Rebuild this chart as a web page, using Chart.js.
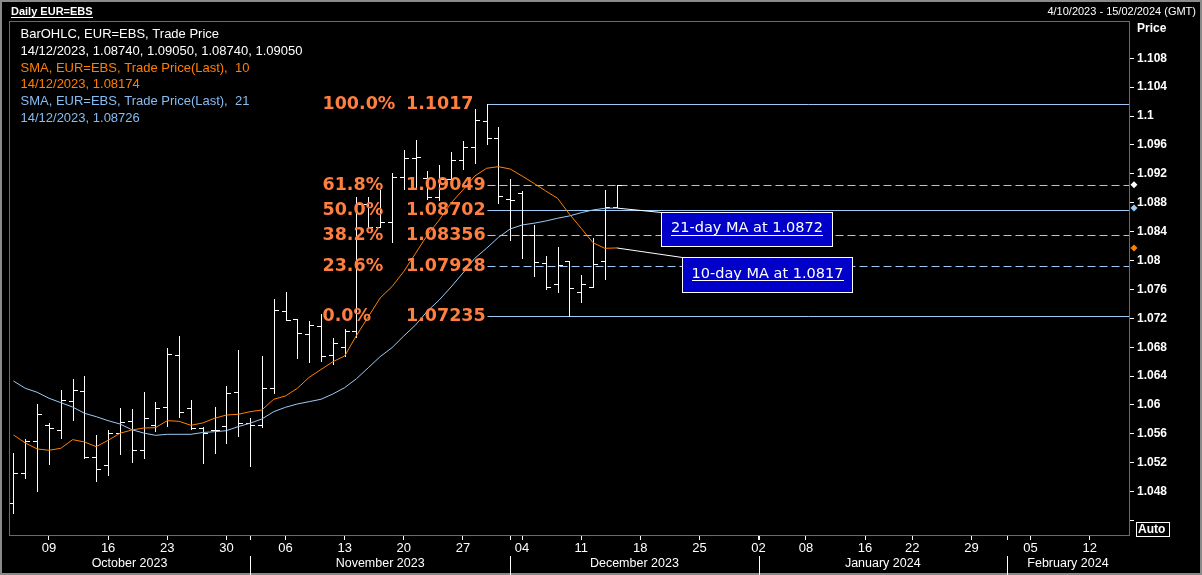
<!DOCTYPE html>
<html>
<head>
<meta charset="utf-8">
<script src="https://cdn.jsdelivr.net/npm/chart.js@4.4.1/dist/chart.umd.min.js"></script>
<style>
  html, body { margin: 0; padding: 0; background: #000; }
  canvas { display: block; }
</style>
</head>
<body>
<canvas id="chart" width="1202" height="575"></canvas>
<script>
// Daily EUR=EBS, one entry per trading day from 04/10/2023 to 14/12/2023
// x value = trading day number (0 = 4 Oct 2023)
const opens = [1.04643, 1.05054, 1.05500, 1.05723, 1.05650, 1.06055, 1.06190, 1.05276, 1.05169, 1.05608,
  1.05774, 1.05373, 1.05727, 1.05968, 1.06688, 1.05958, 1.05682, 1.05654, 1.05709, 1.06180,
  1.05755, 1.05723, 1.06231, 1.07297, 1.07195, 1.06979, 1.07094, 1.06692, 1.06799, 1.07029,
  1.08783, 1.08469, 1.08538, 1.09152, 1.09416, 1.09139, 1.08880, 1.09125, 1.09392, 1.09568,
  1.09930, 1.09701, 1.08852, 1.08930, 1.08360, 1.07970, 1.07675, 1.07990, 1.07560, 1.07638,
  1.07990, 1.08740];
const highs = [1.05335, 1.05525, 1.06014, 1.05747, 1.06208, 1.06360, 1.06402, 1.05585, 1.05654, 1.05958,
  1.05940, 1.06180, 1.06037, 1.06789, 1.06955, 1.06069, 1.05691, 1.05968, 1.06267, 1.06762,
  1.05816, 1.06678, 1.07463, 1.07565, 1.07195, 1.07167, 1.07260, 1.06923, 1.07056, 1.08876,
  1.08876, 1.08977, 1.09208, 1.09526, 1.09669, 1.09240, 1.09323, 1.09503, 1.09655, 1.10098,
  1.10170, 1.09845, 1.09125, 1.08963, 1.08492, 1.08067, 1.08192, 1.07998, 1.07800, 1.08316,
  1.08977, 1.09050];
const lows = [1.04509, 1.04994, 1.04814, 1.05187, 1.05547, 1.05792, 1.05262, 1.04952, 1.05035, 1.05326,
  1.05215, 1.05270, 1.05644, 1.05713, 1.05830, 1.05668, 1.05201, 1.05340, 1.05470, 1.05575,
  1.05160, 1.05691, 1.06162, 1.07177, 1.06647, 1.06599, 1.06613, 1.06564, 1.06678, 1.06946,
  1.08469, 1.08460, 1.08253, 1.08986, 1.09014, 1.08852, 1.08838, 1.09125, 1.09263, 1.09355,
  1.09613, 1.08793, 1.08284, 1.08039, 1.07790, 1.07602, 1.07560, 1.07235, 1.07422, 1.07638,
  1.07740, 1.08740];
const closes = [1.05054, 1.05497, 1.05871, 1.05677, 1.06069, 1.06208, 1.05276, 1.05110, 1.05608, 1.05760,
  1.05373, 1.05820, 1.05958, 1.06706, 1.05899, 1.05677, 1.05608, 1.05654, 1.06170, 1.05755,
  1.05723, 1.06231, 1.07315, 1.07177, 1.06993, 1.07103, 1.06678, 1.06863, 1.07029, 1.08783,
  1.08469, 1.08538, 1.09152, 1.09416, 1.09430, 1.08880, 1.09125, 1.09392, 1.09568, 1.09946,
  1.09701, 1.08894, 1.08840, 1.08360, 1.07976, 1.07638, 1.07940, 1.07616, 1.07675, 1.07952,
  1.08745, 1.09050];
const sma10 = [1.05585, 1.05474, 1.05391, 1.05373, 1.05400, 1.05520, 1.05488, 1.05423, 1.05511, 1.05608,
  1.05654, 1.05681, 1.05686, 1.05783, 1.05774, 1.05719, 1.05751, 1.05816, 1.05861, 1.05871,
  1.05907, 1.05931, 1.06079, 1.06125, 1.06231, 1.06383, 1.06491, 1.06599, 1.06678, 1.06962,
  1.07222, 1.07481, 1.07638, 1.07848, 1.08100, 1.08354, 1.08561, 1.08797, 1.08977, 1.09170,
  1.09277, 1.09299, 1.09267, 1.09170, 1.09069, 1.08963, 1.08862, 1.08644, 1.08446, 1.08247,
  1.08169, 1.08174];
const sma21 = [1.06332, 1.06231, 1.06176, 1.06093, 1.06032, 1.05972, 1.05885, 1.05838, 1.05783, 1.05737,
  1.05658, 1.05612, 1.05580, 1.05594, 1.05594, 1.05594, 1.05619, 1.05630, 1.05644, 1.05700,
  1.05747, 1.05806, 1.05907, 1.05968, 1.06014, 1.06046, 1.06079, 1.06152, 1.06240, 1.06364,
  1.06516, 1.06669, 1.06793, 1.06955, 1.07108, 1.07301, 1.07454, 1.07634, 1.07827, 1.08030,
  1.08170, 1.08320, 1.08437, 1.08492, 1.08516, 1.08547, 1.08585, 1.08617, 1.08662, 1.08700,
  1.08723, 1.08726];

// axis: trading days up to 15/02/2024 (index 94)
const xMin = -0.38;
const xMax = 94.32;
const yMin = 1.042;
const yMax = 1.11316;
const weekTicks = [3, 8, 13, 18, 23, 28, 33, 38, 43, 48, 53, 58, 63, 67, 72, 76, 81, 86, 91];
const weekLabels = ['09', '16', '23', '30', '06', '13', '20', '27', '04', '11', '18', '25', '02', '08', '16', '22', '29', '05', '12'];
const monthStarts = [20, 42, 63, 84];
const monthLabels = ['October 2023', 'November 2023', 'December 2023', 'January 2024', 'February 2024'];
const priceTicks = [1.044, 1.048, 1.052, 1.056, 1.06, 1.064, 1.068, 1.072, 1.076, 1.08, 1.084, 1.088, 1.092, 1.096, 1.1, 1.104, 1.108];
const priceLabels = ['', '1.048', '1.052', '1.056', '1.06', '1.064', '1.068', '1.072', '1.076', '1.08', '1.084', '1.088', '1.092', '1.096', '1.1', '1.104', '1.108'];

// Fibonacci retracement between the 29/11 high and 08/12 low
const fibStart = 40;
const fibNames = ['100.0%', '61.8%', '50.0%', '38.2%', '23.6%', '0.0%'];
const fibLevels = [1.1017, 1.09049, 1.08702, 1.08356, 1.07928, 1.07235];
const fibValueText = ['1.1017', '1.09049', '1.08702', '1.08356', '1.07928', '1.07235'];
const fibDashed = [false, true, false, true, true, false];

const legendLines = [
  ['BarOHLC, EUR=EBS, Trade Price', '#ffffff'],
  ['14/12/2023, 1.08740, 1.09050, 1.08740, 1.09050', '#ffffff'],
  ['SMA, EUR=EBS, Trade Price(Last),  10', '#ff7f00'],
  ['14/12/2023, 1.08174', '#ff7f00'],
  ['SMA, EUR=EBS, Trade Price(Last),  21', '#86bdf2'],
  ['14/12/2023, 1.08726', '#86bdf2']
];

const ORANGE = '#ff8000';
const BLUE = '#9ccaf5';
const FIBTXT = '#ff7f40';
const TEAL = '#1b8b8b';

// callout boxes (data units): left/right in trading days, top/bottom in price
const callouts = [
  { text: '21-day MA at 1.0872', series: sma21, x0: 54.75, x1: 69.18, top: 1.08676, bottom: 1.08197 },
  { text: '10-day MA at 1.0817', series: sma10, x0: 56.55, x1: 70.92, top: 1.08045, bottom: 1.07560 }
];

function pts(arr) {
  return arr.map((v, i) => ({ x: i, y: v }));
}

const fxPlugin = {
  id: 'fx',
  beforeDraw(chart) {
    const ctx = chart.ctx;
    ctx.save();
    ctx.fillStyle = '#000';
    ctx.fillRect(0, 0, chart.width, chart.height);
    ctx.restore();
  },
  beforeDatasetsDraw(chart) {
    const ctx = chart.ctx;
    const xs = chart.scales.x;
    const ys = chart.scales.y;
    const area = chart.chartArea;
    ctx.save();
    // fib lines
    ctx.strokeStyle = BLUE;
    ctx.lineWidth = 1;
    const x0 = Math.round(xs.getPixelForValue(fibStart)) + 0.5;
    fibLevels.forEach((lv, i) => {
      const y = Math.round(ys.getPixelForValue(lv)) + 0.5;
      ctx.setLineDash(fibDashed[i] ? [8, 4] : []);
      ctx.beginPath();
      ctx.moveTo(x0, y);
      ctx.lineTo(area.right, y);
      ctx.stroke();
    });
    ctx.setLineDash([]);
    // OHLC bars
    ctx.strokeStyle = '#ffffff';
    for (let i = 0; i < closes.length; i++) {
      const x = Math.round(xs.getPixelForValue(i)) + 0.5;
      const yh = Math.round(ys.getPixelForValue(highs[i]));
      const yl = Math.round(ys.getPixelForValue(lows[i]));
      const yo = Math.round(ys.getPixelForValue(opens[i])) + 0.5;
      const yc = Math.round(ys.getPixelForValue(closes[i])) + 0.5;
      ctx.beginPath();
      ctx.moveTo(x, yh);
      ctx.lineTo(x, yl + 1);
      ctx.moveTo(x - 4.5, yo);
      ctx.lineTo(x, yo);
      ctx.moveTo(x, yc);
      ctx.lineTo(x + 4.5, yc);
      ctx.stroke();
    }
    ctx.restore();
  },
  afterDatasetsDraw(chart) {
    const ctx = chart.ctx;
    const xs = chart.scales.x;
    const ys = chart.scales.y;
    const area = chart.chartArea;
    ctx.save();
    // fib labels
    ctx.fillStyle = FIBTXT;
    ctx.font = 'bold 17.5px "DejaVu Sans", Verdana, sans-serif';
    ctx.textBaseline = 'middle';
    ctx.textAlign = 'left';
    fibLevels.forEach((lv, i) => {
      const y = ys.getPixelForValue(lv) + 1;
      ctx.fillText(fibNames[i], area.left + 313.5, y);
      ctx.fillText(fibValueText[i], area.left + 397, y);
    });
    // callouts
    const last = closes.length - 1;
    callouts.forEach(c => {
      const bx0 = Math.round(xs.getPixelForValue(c.x0)) + 0.5;
      const bx1 = Math.round(xs.getPixelForValue(c.x1)) + 0.5;
      const by0 = Math.round(ys.getPixelForValue(c.top)) + 0.5;
      const by1 = Math.round(ys.getPixelForValue(c.bottom)) + 0.5;
      ctx.strokeStyle = '#ffffff';
      ctx.lineWidth = 1;
      ctx.beginPath();
      ctx.moveTo(xs.getPixelForValue(last), ys.getPixelForValue(c.series[last]));
      ctx.lineTo(bx0, by0);
      ctx.stroke();
      ctx.fillStyle = '#0000c8';
      ctx.fillRect(bx0, by0, bx1 - bx0, by1 - by0);
      ctx.strokeRect(bx0, by0, bx1 - bx0, by1 - by0);
      ctx.fillStyle = '#ffffff';
      ctx.font = '14.5px "DejaVu Sans", Verdana, sans-serif';
      ctx.textAlign = 'center';
      ctx.textBaseline = 'middle';
      const cx = (bx0 + bx1) / 2;
      const cy = (by0 + by1) / 2 - 1;
      ctx.fillText(c.text, cx, cy);
      const w = ctx.measureText(c.text).width;
      ctx.fillRect(Math.round(cx - w / 2), Math.round(cy + 6), Math.round(w), 1);
    });
    ctx.restore();
  },
  afterDraw(chart) {
    const ctx = chart.ctx;
    const xs = chart.scales.x;
    const ys = chart.scales.y;
    const area = chart.chartArea;
    ctx.save();
    // outer border
    ctx.strokeStyle = '#8a8a8a';
    ctx.lineWidth = 2;
    ctx.strokeRect(1, 1, chart.width - 2, chart.height - 2);
    // plot frame
    ctx.strokeStyle = TEAL;
    ctx.lineWidth = 1;
    ctx.strokeRect(area.left + 0.5, area.top + 0.5, area.right - area.left, area.bottom - area.top);
    // title row
    ctx.fillStyle = '#ffffff';
    ctx.textBaseline = 'middle';
    ctx.textAlign = 'left';
    ctx.font = 'bold 11px "Liberation Sans", Arial, sans-serif';
    const title = 'Daily EUR=EBS';
    ctx.fillText(title, 11, 12);
    ctx.fillRect(11, 17, Math.round(ctx.measureText(title).width), 1);
    ctx.font = '11px "Liberation Sans", Arial, sans-serif';
    ctx.textAlign = 'right';
    ctx.fillText('4/10/2023 - 15/02/2024 (GMT)', 1196, 12);
    // legend
    ctx.textAlign = 'left';
    ctx.font = '13px "Liberation Sans", Arial, sans-serif';
    legendLines.forEach((l, i) => {
      ctx.fillStyle = l[1];
      ctx.fillText(l[0], 20.5, 34.5 + i * 16.8);
    });
    // axis caption and Auto button
    ctx.fillStyle = '#ffffff';
    ctx.font = 'bold 12px "Liberation Sans", Arial, sans-serif';
    ctx.fillText('Price', 1137, 29);
    ctx.strokeStyle = '#ffffff';
    ctx.strokeRect(1136.5, 522.5, 33, 14);
    ctx.fillText('Auto', 1138, 530);
    // last value markers
    const last = closes.length - 1;
    [[closes[last], '#ffffff'], [sma21[last], BLUE], [sma10[last], ORANGE]].forEach(m => {
      const y = ys.getPixelForValue(m[0]);
      const x = area.right + 5;
      ctx.fillStyle = m[1];
      ctx.beginPath();
      ctx.moveTo(x, y - 3.5);
      ctx.lineTo(x + 3.5, y);
      ctx.lineTo(x, y + 3.5);
      ctx.lineTo(x - 3.5, y);
      ctx.closePath();
      ctx.fill();
    });
    // month dividers
    ctx.strokeStyle = '#ffffff';
    ctx.lineWidth = 1;
    monthStarts.forEach(m => {
      const x = Math.round(xs.getPixelForValue(m)) + 0.5;
      ctx.beginPath();
      ctx.moveTo(x, area.bottom + 1);
      ctx.lineTo(x, area.bottom + 5);
      ctx.moveTo(x, 556);
      ctx.lineTo(x, 575);
      ctx.stroke();
    });
    ctx.restore();
  }
};

const monthCenters = [];
[xMin].concat(monthStarts).forEach((s, i, arr) => {
  const e = i + 1 < arr.length ? arr[i + 1] : xMax;
  monthCenters.push((s + e) / 2);
});

new Chart(document.getElementById('chart'), {
  type: 'line',
  data: {
    datasets: [
      { label: 'SMA 10', data: pts(sma10), borderColor: ORANGE, borderWidth: 1, pointRadius: 0, tension: 0 },
      { label: 'SMA 21', data: pts(sma21), borderColor: BLUE, borderWidth: 1, pointRadius: 0, tension: 0 }
    ]
  },
  options: {
    responsive: false,
    animation: false,
    events: [],
    layout: { padding: { left: 9, top: 21, right: 0, bottom: 0 } },
    plugins: { legend: { display: false }, tooltip: { enabled: false } },
    scales: {
      x: {
        type: 'linear', position: 'bottom', min: xMin, max: xMax, weight: 0,
        afterBuildTicks: s => { s.ticks = weekTicks.map(v => ({ value: v })); },
        afterFit: s => { s.height = 21; },
        grid: { drawOnChartArea: false, drawTicks: true, tickLength: 5, color: '#ffffff' },
        border: { display: false },
        ticks: {
          color: '#ffffff', autoSkip: false, maxRotation: 0, padding: 1,
          font: { family: '"Liberation Sans Narrow", "Liberation Sans", Arial', size: 13 },
          callback: (v, i) => weekLabels[i]
        }
      },
      x2: {
        type: 'linear', position: 'bottom', min: xMin, max: xMax, weight: 1,
        afterBuildTicks: s => { s.ticks = monthCenters.map(v => ({ value: v })); },
        afterFit: s => { s.height = 19; },
        grid: { display: false, drawTicks: false, tickLength: 0 },
        border: { display: false },
        ticks: {
          color: '#ffffff', autoSkip: false, maxRotation: 0, padding: 0,
          font: { family: '"Liberation Sans", Arial', size: 12.5 },
          callback: (v, i) => monthLabels[i]
        }
      },
      y: {
        type: 'linear', position: 'right', min: yMin, max: yMax,
        afterBuildTicks: s => { s.ticks = priceTicks.map(v => ({ value: v })); },
        afterFit: s => { s.width = 73; },
        grid: { drawOnChartArea: false, drawTicks: true, tickLength: 5, color: '#ffffff' },
        border: { display: false },
        ticks: {
          color: '#ffffff', padding: 3,
          font: { family: '"Liberation Sans", Arial', size: 12, weight: 'bold' },
          callback: (v, i) => priceLabels[i]
        }
      }
    }
  },
  plugins: [fxPlugin]
});
</script>
</body>
</html>
